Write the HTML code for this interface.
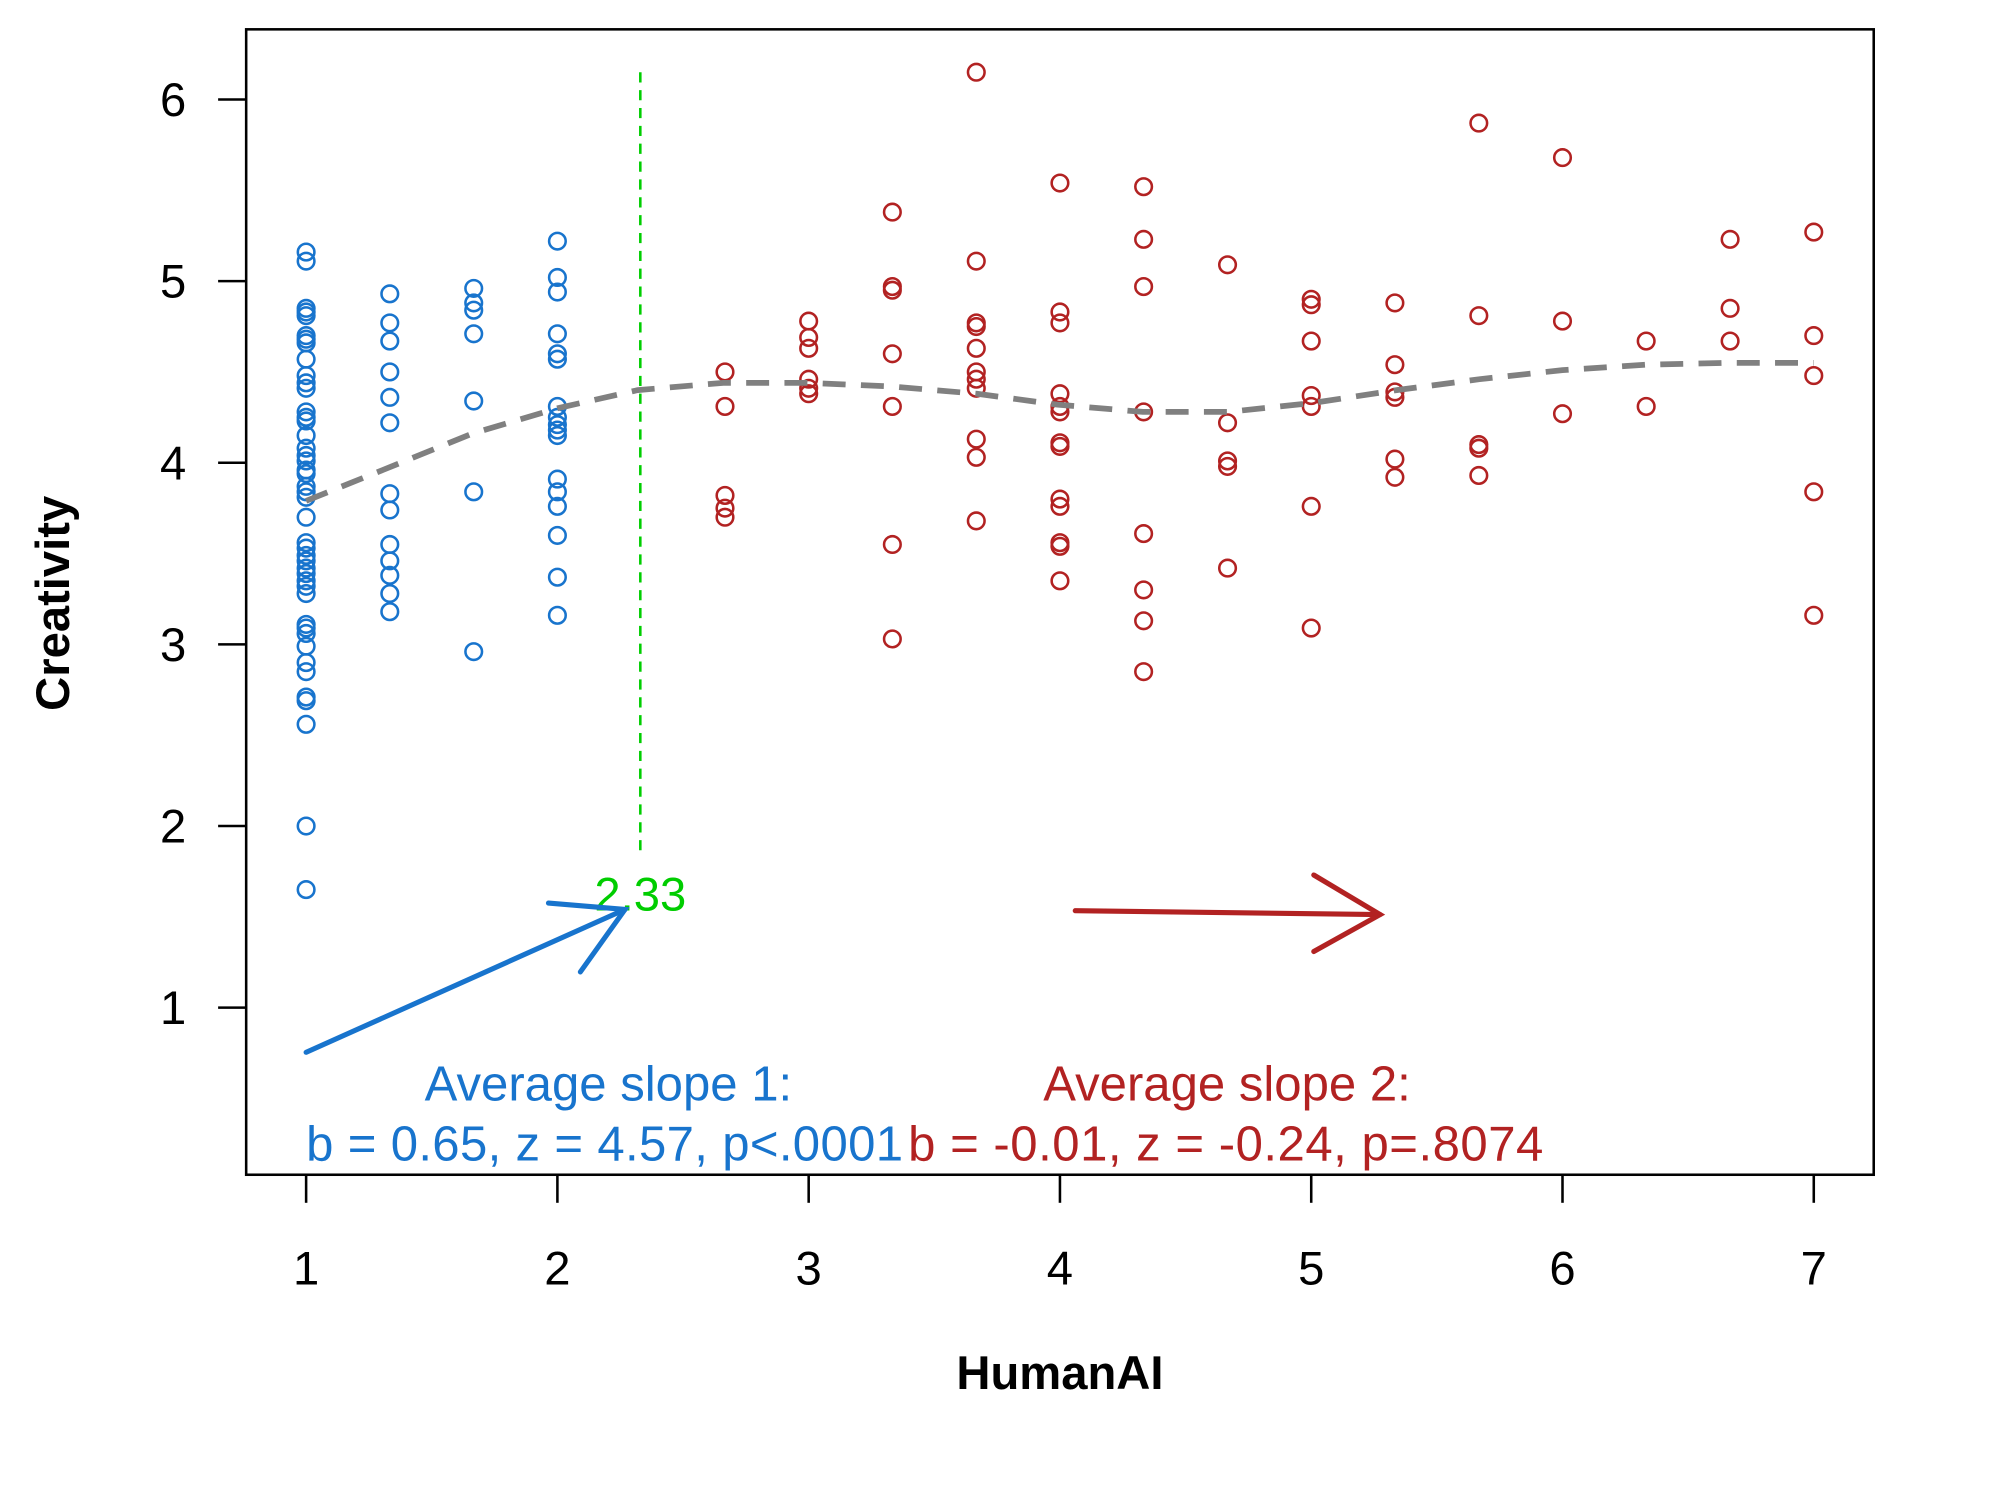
<!DOCTYPE html>
<html><head><meta charset="utf-8"><style>
html,body{margin:0;padding:0;background:#fff}
svg{display:block}
text{font-family:"Liberation Sans",Arial,sans-serif}
</style></head><body>
<svg id="chart" width="2000" height="1500" viewBox="0 0 1568 1176" preserveAspectRatio="none" xmlns="http://www.w3.org/2000/svg">
<rect x="0" y="0" width="1568" height="1176" fill="#fff"/>
<g id="points"></g>
<g id="axes"></g>
<rect x="193" y="23" width="1276" height="898" fill="none" stroke="#000" stroke-width="2"/>
<text transform="translate(54,473) rotate(-90)" text-anchor="middle" font-size="37" font-weight="bold">Creativity</text>
<text x="831" y="1089" text-anchor="middle" font-size="37" font-weight="bold">HumanAI</text>
<text x="477" y="863" text-anchor="middle" font-size="38.5" fill="#1874CD">Average slope 1:</text>
<text x="240" y="910" font-size="38.5" fill="#1874CD" textLength="468">b = 0.65, z = 4.57, p&lt;.0001</text>
<text x="962" y="863" text-anchor="middle" font-size="38.5" fill="#B22222">Average slope 2:</text>
<text x="712" y="910" font-size="38.5" fill="#B22222" textLength="498">b = -0.01, z = -0.24, p=.8074</text>
<g stroke="#1874CD" stroke-width="4" fill="none" stroke-linecap="round">
<line x1="240" y1="825" x2="490" y2="713"/><polyline points="430,708 490,713 455,762"/></g>
<g stroke="#B22222" stroke-width="4" fill="none" stroke-linecap="round">
<line x1="843" y1="714" x2="1082" y2="717"/><polyline points="1030,686 1082,717 1030,746"/></g>
</svg>
<script>
const xTicks=[1,2,3,4,5,6,7];
const yTicks=[1,2,3,4,5,6];
const blueX=[1,1.333,1.667,2];
const blueY=[
[5.16,5.11,4.85,4.83,4.81,4.70,4.68,4.66,4.57,4.48,4.44,4.41,4.28,4.25,4.23,4.15,4.08,4.04,4.01,3.96,3.94,3.87,3.84,3.81,3.70,3.56,3.53,3.49,3.46,3.42,3.39,3.35,3.32,3.28,3.11,3.09,3.06,2.99,2.90,2.85,2.71,2.69,2.56,2.00,1.65],
[4.93,4.77,4.67,4.50,4.36,4.22,3.83,3.74,3.55,3.46,3.38,3.28,3.18],
[4.96,4.88,4.84,4.71,4.34,3.84,2.96],
[5.22,5.02,4.94,4.71,4.60,4.57,4.31,4.25,4.21,4.18,4.15,3.91,3.84,3.76,3.60,3.37,3.16]];
const redX=[2.667,3,3.333,3.667,4,4.333,4.667,5,5.333,5.667,6,6.333,6.667,7];
const redY=[
[4.50,4.31,3.82,3.75,3.70],
[4.78,4.69,4.63,4.46,4.41,4.38],
[5.38,4.97,4.95,4.60,4.31,3.55,3.03],
[6.15,5.11,4.77,4.75,4.63,4.50,4.46,4.41,4.13,4.03,3.68],
[5.54,4.83,4.77,4.38,4.31,4.28,4.11,4.09,3.80,3.76,3.56,3.54,3.35],
[5.52,5.23,4.97,4.28,3.61,3.30,3.13,2.85],
[5.09,4.22,4.01,3.98,3.42],
[4.90,4.87,4.67,4.37,4.31,3.76,3.09],
[4.88,4.54,4.39,4.36,4.02,3.92],
[5.87,4.81,4.10,4.08,3.93],
[5.68,4.78,4.27],
[4.67,4.31],
[5.23,4.85,4.67],
[5.27,4.70,4.48,3.84,3.16]];
const smoothX=[1,1.305,1.66,2,2.32,2.66,3,3.33,3.67,3.99,4.33,4.67,5.01,5.34,5.67,6,6.33,6.66,7];
const smoothY=[3.79,3.96,4.16,4.30,4.40,4.44,4.44,4.42,4.38,4.32,4.28,4.28,4.33,4.40,4.46,4.51,4.54,4.55,4.55];
const breakX=[2.33];
const breakRange=[1.85,6.15];

const sx=v=>240+(v-1)*197;
const sy=v=>790-(v-1)*142.4;
const NS='http://www.w3.org/2000/svg';
const mk=(t,a,p)=>{const e=document.createElementNS(NS,t);for(const k in a)e.setAttribute(k,a[k]);p.appendChild(e);return e;};
const P=document.getElementById('points'), A=document.getElementById('axes');

xTicks.forEach(v=>{
  const l=mk('line',{x1:sx(v),x2:sx(v),y1:921,y2:943,stroke:'#000','stroke-width':2},A);
  
  
  const t=mk('text',{x:sx(v),y:1007,'text-anchor':'middle','font-size':37},A);t.textContent=v;
  
  
});
yTicks.forEach(v=>{
  const l=mk('line',{x1:171,x2:193,y1:sy(v),y2:sy(v),stroke:'#000','stroke-width':2},A);
  
  
  const t=mk('text',{x:146,y:sy(v)+13,'text-anchor':'end','font-size':37},A);t.textContent=v;
  
  
});
const bl=mk('line',{x1:sx(breakX[0]),x2:sx(breakX[0]),y1:sy(breakRange[1]),y2:sy(breakRange[0]),stroke:'#00CD00','stroke-width':2,'stroke-dasharray':'8 6'},P);


const bt=mk('text',{x:sx(breakX[0]),y:sy(breakRange[0])+45,'text-anchor':'middle','font-size':37,fill:'#00CD00'},P);bt.textContent=breakX[0].toFixed(2);



function drawGroup(xs,ys,col,name){
  xs.forEach((x,i)=>ys[i].forEach(y=>{
    const c=mk('circle',{cx:sx(x),cy:sy(y),r:6.5,fill:'none',stroke:col,'stroke-width':2},P);
    
    
  }));
}
drawGroup(blueX,blueY,'#1874CD','blue-point');
drawGroup(redX,redY,'#B22222','red-point');
const pl=mk('polyline',{points:smoothX.map((x,i)=>sx(x)+','+sy(smoothY[i])).join(' '),fill:'none',stroke:'#808080','stroke-width':4.5,'stroke-dasharray':'18 12'},P);


</script>
</body></html>
